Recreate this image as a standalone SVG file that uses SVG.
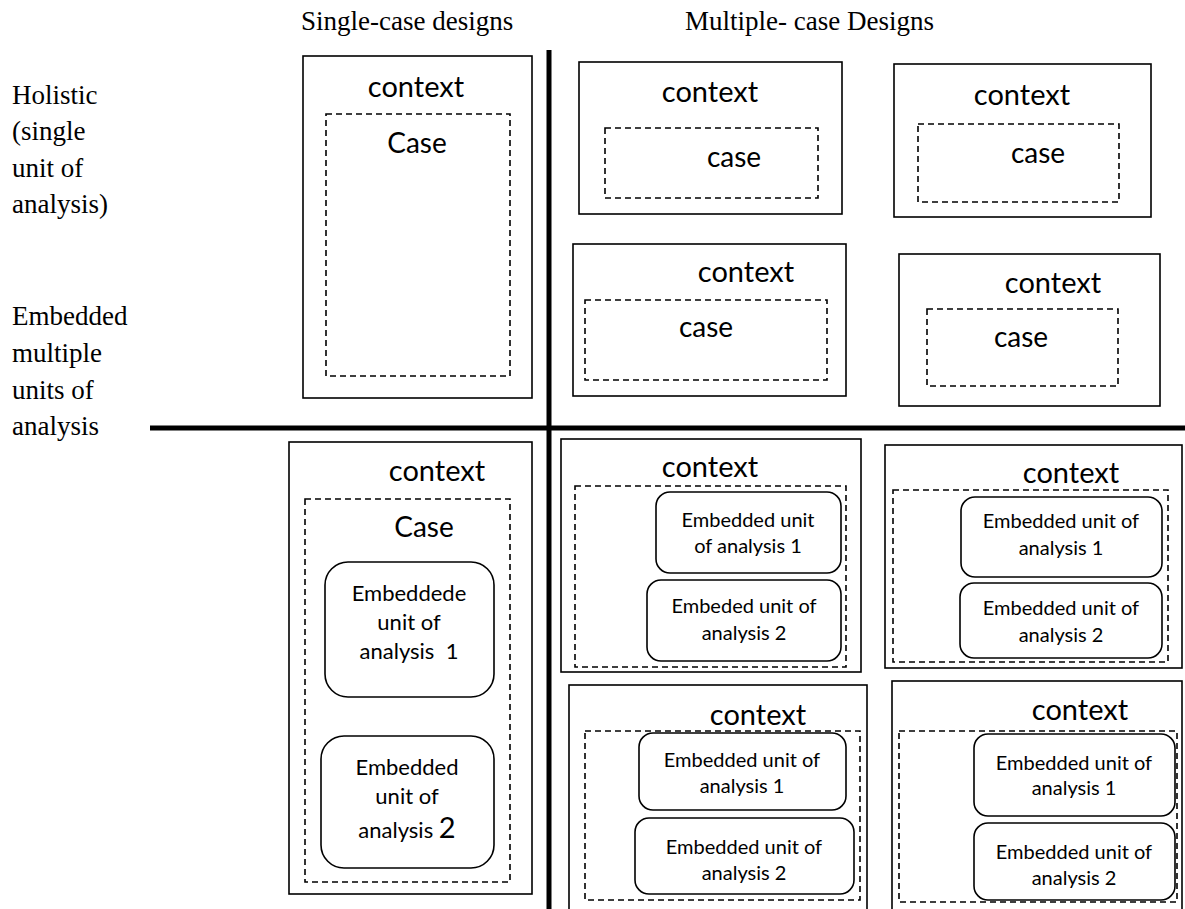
<svg xmlns="http://www.w3.org/2000/svg" width="1185" height="909" viewBox="0 0 1185 909">
  <style>
    .hdr { font-family: "Liberation Serif", "Times New Roman", serif; font-size: 27px; fill: #000; }
    .lbl { font-family: "Lato", "Noto Sans", sans-serif; fill: #000; text-anchor: middle; }
    .ctx { font-size: 29px; }
    .cs { font-size: 28px; }
    .eu { font-size: 20px; }
    .eb { font-size: 22px; }
    .outer { fill: #fff; stroke: #000; stroke-width: 1.6; }
    .case { fill: none; stroke: #000; stroke-width: 1.6; stroke-dasharray: 6 4; }
    .unit { fill: #fff; stroke: #000; stroke-width: 1.6; }
    .axis { stroke: #000; stroke-width: 5; fill: none; }
  </style>
  <rect width="1185" height="909" fill="#fff"/>

  <!-- column headings -->
  <text class="hdr" x="301" y="30">Single-case designs</text>
  <text class="hdr" x="685" y="30">Multiple- case Designs</text>

  <!-- row headings -->
  <g class="hdr">
    <text x="12" y="104">Holistic</text>
    <text x="12" y="140">(single</text>
    <text x="12" y="177">unit of</text>
    <text x="12" y="213">analysis)</text>
    <text x="12" y="325">Embedded</text>
    <text x="12" y="362">multiple</text>
    <text x="12" y="399">units of</text>
    <text x="12" y="435">analysis</text>
  </g>

  <!-- quadrant dividers -->
  <g id="connectors">
    <line class="axis" x1="549" y1="50" x2="549" y2="909"/>
    <line class="axis" x1="150" y1="428" x2="1185" y2="428"/>
  </g>

  <!-- holistic, single case -->
  <g id="single-holistic">
    <rect class="outer" x="303" y="56" width="229" height="342"/>
    <text class="lbl ctx" x="416" y="97">context</text>
    <rect class="case" x="326" y="114" width="184" height="262"/>
    <text class="lbl cs" x="417" y="153">Case</text>
  </g>

  <!-- holistic, multiple cases -->
  <g id="multi-holistic-1">
    <rect class="outer" x="579" y="62" width="263" height="152"/>
    <text class="lbl ctx" x="710" y="102">context</text>
    <rect class="case" x="605" y="128" width="213" height="70"/>
    <text class="lbl cs" x="734" y="167">case</text>
  </g>
  <g id="multi-holistic-2">
    <rect class="outer" x="894" y="64" width="257" height="153"/>
    <text class="lbl ctx" x="1022" y="105">context</text>
    <rect class="case" x="918" y="124" width="201" height="78"/>
    <text class="lbl cs" x="1038" y="163">case</text>
  </g>
  <g id="multi-holistic-3">
    <rect class="outer" x="573" y="244" width="273" height="152"/>
    <text class="lbl ctx" x="746" y="282">context</text>
    <rect class="case" x="585" y="300" width="242" height="80"/>
    <text class="lbl cs" x="706" y="337">case</text>
  </g>
  <g id="multi-holistic-4">
    <rect class="outer" x="899" y="254" width="261" height="152"/>
    <text class="lbl ctx" x="1053" y="293">context</text>
    <rect class="case" x="927" y="309" width="191" height="77"/>
    <text class="lbl cs" x="1021" y="347">case</text>
  </g>

  <!-- embedded, single case -->
  <g id="single-embedded">
    <rect class="outer" x="289" y="442" width="243" height="452"/>
    <text class="lbl ctx" x="437" y="481" font-size="27">context</text>
    <rect class="case" x="305" y="499" width="205" height="383"/>
    <text class="lbl cs" x="424" y="537">Case</text>
    <rect class="unit" x="325" y="562" width="169" height="135" rx="23"/>
    <text class="lbl eb" x="409" y="601">Embeddede</text>
    <text class="lbl eb" x="409" y="630">unit of</text>
    <text class="lbl eb" x="409" y="659" xml:space="preserve">analysis  1</text>
    <rect class="unit" x="321" y="736" width="173" height="132" rx="23"/>
    <text class="lbl eb" x="407" y="775">Embedded</text>
    <text class="lbl eb" x="407" y="804">unit of</text>
    <text class="lbl eb" x="407" y="838">analysis <tspan font-size="29">2</tspan></text>
  </g>

  <!-- embedded, multiple cases -->
  <g id="multi-embedded-1">
    <rect class="outer" x="561" y="439" width="300" height="233"/>
    <text class="lbl ctx" x="710" y="477" font-size="26">context</text>
    <rect class="case" x="575" y="486" width="271" height="181"/>
    <rect class="unit" x="656" y="492" width="185" height="81" rx="14"/>
    <text class="lbl eu" x="748" y="527">Embedded unit</text>
    <text class="lbl eu" x="748" y="553">of analysis 1</text>
    <rect class="unit" x="647" y="580" width="194" height="81" rx="14"/>
    <text class="lbl eu" x="744" y="613">Embeded unit of</text>
    <text class="lbl eu" x="744" y="640">analysis 2</text>
  </g>
  <g id="multi-embedded-2">
    <rect class="outer" x="885" y="445" width="297" height="223"/>
    <text class="lbl ctx" x="1071" y="483" font-size="27">context</text>
    <rect class="case" x="893" y="490" width="275" height="172"/>
    <rect class="unit" x="961" y="497" width="201" height="80" rx="14"/>
    <text class="lbl eu" x="1061" y="528">Embedded unit of</text>
    <text class="lbl eu" x="1061" y="555">analysis 1</text>
    <rect class="unit" x="960" y="583" width="202" height="75" rx="14"/>
    <text class="lbl eu" x="1061" y="615">Embedded unit of</text>
    <text class="lbl eu" x="1061" y="642">analysis 2</text>
  </g>
  <g id="multi-embedded-3">
    <rect class="outer" x="569" y="685" width="298" height="240"/>
    <text class="lbl ctx" x="758" y="725" font-size="28">context</text>
    <rect class="case" x="585" y="731" width="275" height="169"/>
    <rect class="unit" x="639" y="733" width="207" height="77" rx="14"/>
    <text class="lbl eu" x="742" y="767">Embedded unit of</text>
    <text class="lbl eu" x="742" y="793">analysis 1</text>
    <rect class="unit" x="635" y="818" width="219" height="76" rx="14"/>
    <text class="lbl eu" x="744" y="854">Embedded unit of</text>
    <text class="lbl eu" x="744" y="880">analysis 2</text>
  </g>
  <g id="multi-embedded-4">
    <rect class="outer" x="892" y="681" width="290" height="244"/>
    <text class="lbl ctx" x="1080" y="720" font-size="28">context</text>
    <rect class="case" x="899" y="731" width="278" height="171"/>
    <rect class="unit" x="974" y="734" width="201" height="82" rx="14"/>
    <text class="lbl eu" x="1074" y="770">Embedded unit of</text>
    <text class="lbl eu" x="1074" y="795">analysis 1</text>
    <rect class="unit" x="974" y="823" width="201" height="77" rx="14"/>
    <text class="lbl eu" x="1074" y="859">Embedded unit of</text>
    <text class="lbl eu" x="1074" y="885">analysis 2</text>
  </g>
</svg>
